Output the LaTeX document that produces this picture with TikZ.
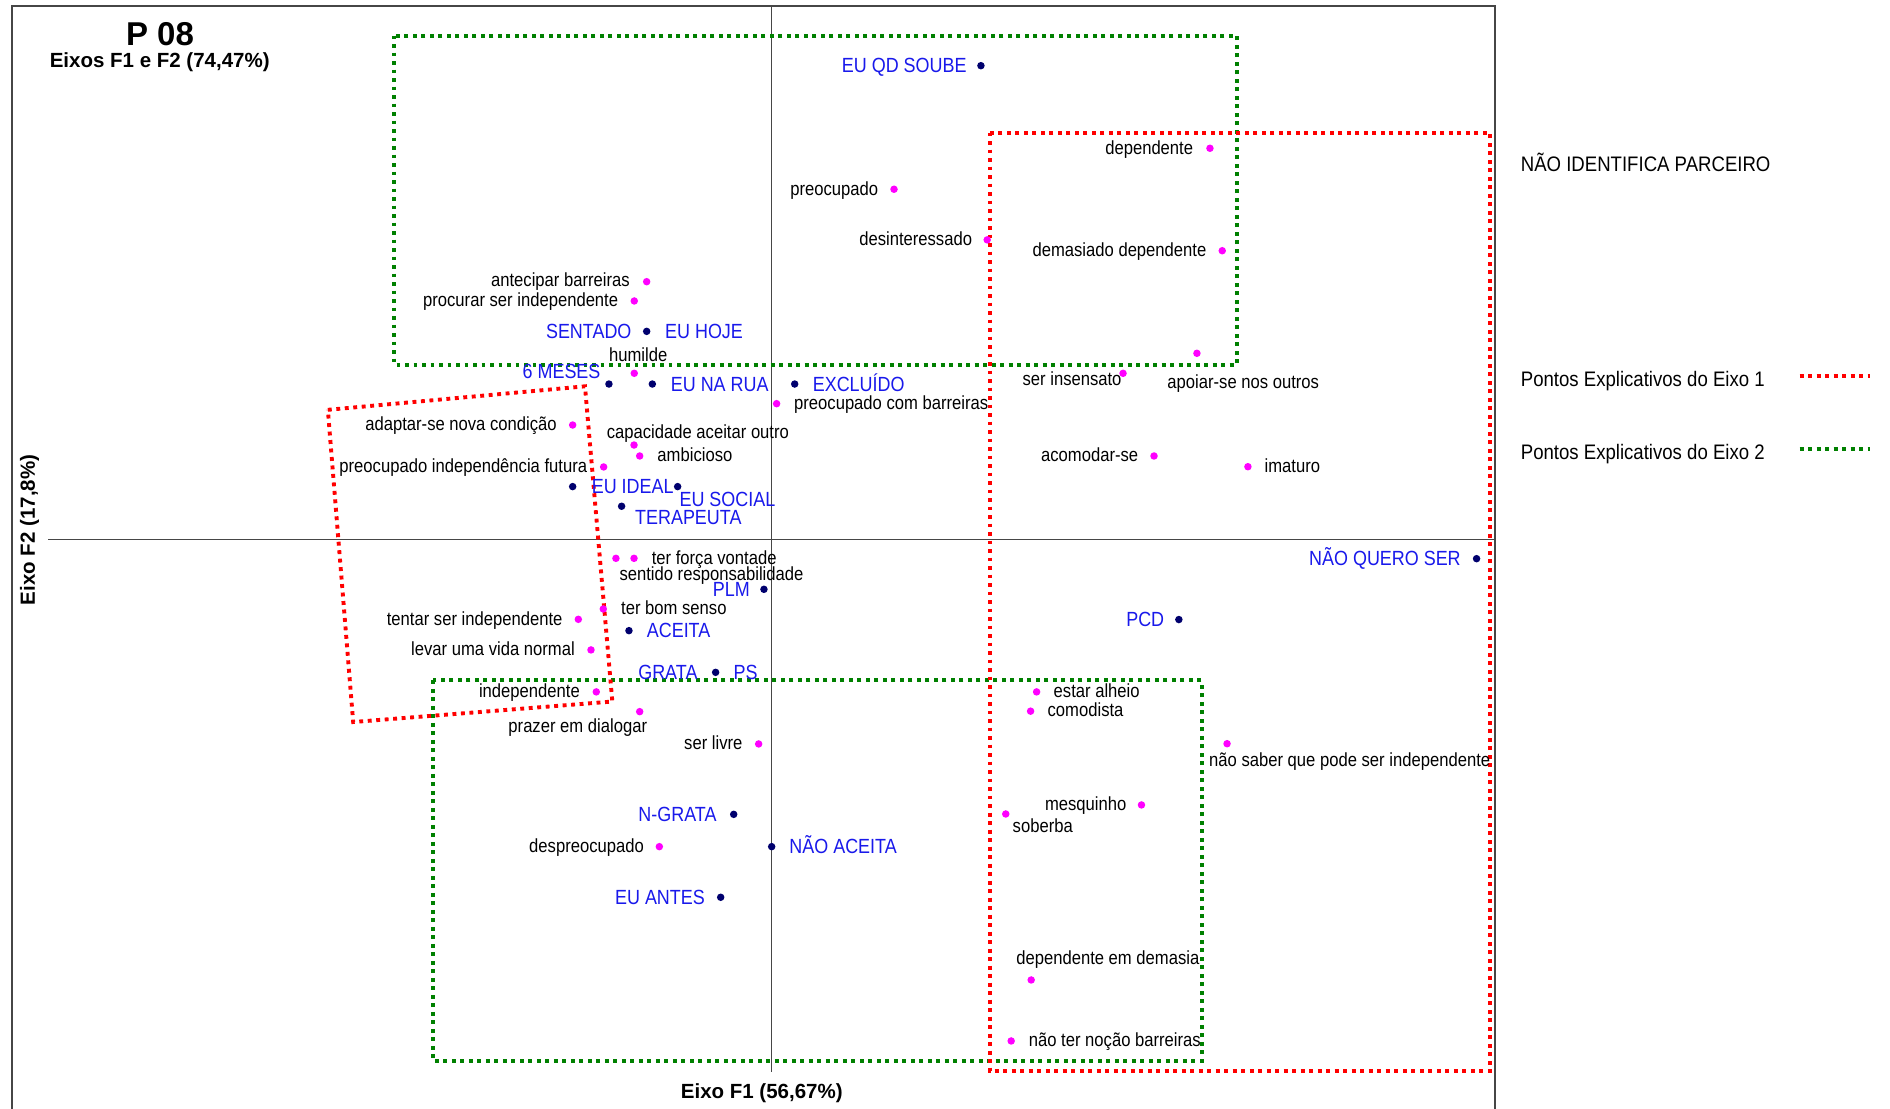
\documentclass[tikz,border=0pt]{standalone}
\usepackage{fontspec}
\setmainfont{Liberation Sans}
\newfontfamily\ptfont[FakeStretch=0.875]{Liberation Sans}
\newfontfamily\legfont[FakeStretch=0.885]{Liberation Sans}

\definecolor{navydot}{RGB}{0,0,110}
\definecolor{lblblue}{RGB}{25,25,235}
\definecolor{dotmag}{RGB}{255,0,255}
\definecolor{boxred}{RGB}{255,0,0}
\definecolor{boxgreen}{RGB}{0,128,0}
\definecolor{framegray}{RGB}{70,70,70}

\tikzset{
  mdot/.style={circle,fill=dotmag,inner sep=0pt,minimum size=7.5pt},
  ndot/.style={circle,fill=navydot,inner sep=0pt,minimum size=7.5pt},
  blk/.style={font=\ptfont\fontsize{19}{21}\selectfont,inner sep=0pt,text=black},
  blu/.style={font=\ptfont\fontsize{20.5}{22}\selectfont,inner sep=0pt,text=lblblue},
  legtxt/.style={font=\legfont\fontsize{21}{23}\selectfont,inner sep=0pt,text=black},
  ttl/.style={font=\bfseries\fontsize{33}{36}\selectfont,inner sep=0pt},
  axlbl/.style={font=\bfseries\fontsize{20.5}{23}\selectfont,inner sep=0pt},
  axisone/.style={draw=boxred,line width=3.9pt,dash pattern=on 3.9pt off 4.6pt},
  axistwo/.style={draw=boxgreen,line width=3.9pt,dash pattern=on 3.9pt off 4.6pt},
  axisline/.style={draw=gray!55!black,line width=1.2pt},
}

\begin{document}
\begin{tikzpicture}[x=1.20536pt,y=-1.20536pt]
\useasboundingbox (0,0) rectangle (1568,920);
\fill[white] (0,0) rectangle (1568,920);
\clip (0,0) rectangle (1568,920);

% plot frame (open at the bottom edge)
\draw[framegray,line width=2pt] (10,930) -- (10,4.6) -- (1240,4.6) -- (1240,930);

% factor axes
\draw[axisline] (640,4.6) -- (640,889);
\draw[axisline] (40,447.8) -- (1240,447.8);

% groups explaining axis 2
\draw[axistwo] (327,29.5) rectangle (1026,302.5);
\draw[axistwo] (359,564.5) rectangle (997,880);
% groups explaining axis 1
\draw[axisone] (821,110) rectangle (1236,888.5);
\draw[axisone] (272,340) -- (485.3,320.5) -- (508,582) -- (293,599) -- cycle;

% titles
\node[ttl,anchor=base] (title) at (132.7,37.9) {P 08};
\node[axlbl,anchor=base] (subtitle) at (132.5,56.4) {Eixos F1 e F2 (74,47\%)};
\node[axlbl,anchor=base] (xlab) at (632,911) {Eixo F1 (56,67\%)};
\node[axlbl,anchor=base,rotate=90] (ylab) at (29,439.7) {Eixo F2 (17,8\%)};

% legend
\node[legtxt,anchor=base west] (leg0) at (1261.6,142.4) {NÃO IDENTIFICA PARCEIRO};
\node[legtxt,anchor=base west] (leg1) at (1261.6,321) {Pontos Explicativos do Eixo 1};
\node[legtxt,anchor=base west] (leg2) at (1261.6,381.6) {Pontos Explicativos do Eixo 2};
\coordinate (l1a) at (1493,312);  \coordinate (l1b) at (1551,312);
\coordinate (l2a) at (1493,372.2); \coordinate (l2b) at (1551,372.2);
\draw[axisone] (l1a) -- (l1b);
\draw[axistwo] (l2a) -- (l2b);

% ---- category points (navy) ----
\node[ndot] (qd) at (813.8,54.5) {};
\node[blu,anchor=base east] (qd-l) at (802,60.5) {EU QD SOUBE};
\node[ndot] (sent) at (536.5,274.9) {};
\node[blu,anchor=base east] (sent-l) at (524,281) {SENTADO};
\node[blu,anchor=base west] (hoje-l) at (551.7,281) {EU HOJE};
\node[ndot] (meses) at (505.2,318.6) {};
\node[blu,anchor=base east] (meses-l) at (498.3,313.9) {6 MESES};
\node[ndot] (rua) at (541.2,318.6) {};
\node[blu,anchor=base west] (rua-l) at (556.4,324.6) {EU NA RUA};
\node[ndot] (excl) at (659.3,318.6) {};
\node[blu,anchor=base west] (excl-l) at (674.2,324.6) {EXCLUÍDO};
\node[ndot] (ideal) at (475.1,403.7) {};
\node[blu,anchor=base west] (ideal-l) at (490.8,409.7) {EU IDEAL};
\node[ndot] (social) at (562.2,403.7) {};
\node[blu,anchor=base west] (social-l) at (563.6,419.8) {EU SOCIAL};
\node[ndot] (tera) at (515.7,420) {};
\node[blu,anchor=base west] (tera-l) at (526.8,435.5) {TERAPEUTA};
\node[ndot] (plm) at (633.8,488.9) {};
\node[blu,anchor=base east] (plm-l) at (622.2,494.9) {PLM};
\node[ndot] (aceita) at (521.8,523.2) {};
\node[blu,anchor=base west] (aceita-l) at (536.5,529.2) {ACEITA};
\node[ndot] (grata) at (593.7,557.8) {};
\node[blu,anchor=base east] (grata-l) at (578.8,563.8) {GRATA};
\node[blu,anchor=base west] (ps-l) at (608.4,563.8) {PS};
\node[ndot] (ngrata) at (608.7,675.6) {};
\node[blu,anchor=base east] (ngrata-l) at (594.6,681.6) {N-GRATA};
\node[ndot] (naoac) at (640.2,702.4) {};
\node[blu,anchor=base west] (naoac-l) at (654.8,708.4) {NÃO ACEITA};
\node[ndot] (antes) at (597.9,744.4) {};
\node[blu,anchor=base east] (antes-l) at (584.9,750.4) {EU ANTES};
\node[ndot] (pcd) at (978,514) {};
\node[blu,anchor=base east] (pcd-l) at (966,520) {PCD};
\node[ndot] (nqs) at (1225,463.5) {};
\node[blu,anchor=base east] (nqs-l) at (1212,469.5) {NÃO QUERO SER};

% ---- attribute points (magenta) ----
\node[mdot] (a1) at (1003.8,123) {};
\node[blk,anchor=base east] (a1-l) at (990,127.8) {dependente};
\node[mdot] (a2) at (741.7,157) {};
\node[blk,anchor=base east] (a2-l) at (728.7,161.8) {preocupado};
\node[mdot] (a3) at (819,199) {};
\node[blk,anchor=base east] (a3-l) at (806.6,203.8) {desinteressado};
\node[mdot] (a4) at (1014,208) {};
\node[blk,anchor=base east] (a4-l) at (1001,212.8) {demasiado dependente};
\node[mdot] (a5) at (536.5,233.7) {};
\node[blk,anchor=base east] (a5-l) at (522.6,238) {antecipar barreiras};
\node[mdot] (a6) at (526.2,249.7) {};
\node[blk,anchor=base east] (a6-l) at (513,254.5) {procurar ser independente};
\node[mdot] (a7) at (526.2,309.7) {};
\node[blk,anchor=base] (a7-l) at (529.5,300) {humilde};
\node[mdot] (a8) at (993,293.1) {};
\node[blk,anchor=base west] (a8-l) at (968.4,322) {apoiar-se nos outros};
\node[mdot] (a9) at (931.7,309.7) {};
\node[blk,anchor=base east] (a9-l) at (930.6,320) {ser insensato};
\node[mdot] (a10) at (644.3,334.9) {};
\node[blk,anchor=base west] (a10-l) at (658.7,339.7) {preocupado com barreiras};
\node[mdot] (a11) at (475.1,352.6) {};
\node[blk,anchor=base east] (a11-l) at (462,357.4) {adaptar-se nova condição};
\node[mdot] (a12) at (526,369.2) {};
\node[blk,anchor=base west] (a12-l) at (503.3,363.7) {capacidade aceitar outro};
\node[mdot] (a13) at (530.7,378.3) {};
\node[blk,anchor=base west] (a13-l) at (545.3,383.1) {ambicioso};
\node[mdot] (a14) at (500.8,387.4) {};
\node[blk,anchor=base east] (a14-l) at (487.3,392.2) {preocupado independência futura};
\node[mdot] (a15) at (957.4,378.3) {};
\node[blk,anchor=base east] (a15-l) at (944.4,383.1) {acomodar-se};
\node[mdot] (a16) at (1035.3,387.2) {};
\node[blk,anchor=base west] (a16-l) at (1049,392) {imaturo};
\node[mdot] (a17) at (511,463.2) {};
\node[blk,anchor=base west] (a17-l) at (513.8,481.2) {sentido responsabilidade};
\node[mdot] (a18) at (526,463.2) {};
\node[blk,anchor=base west] (a18-l) at (540.6,468.2) {ter força vontade};
\node[mdot] (a19) at (500.5,505.2) {};
\node[blk,anchor=base west] (a19-l) at (515.2,510) {ter bom senso};
\node[mdot] (a20) at (479.8,513.8) {};
\node[blk,anchor=base east] (a20-l) at (466.8,518.6) {tentar ser independente};
\node[mdot] (a21) at (490.3,539.2) {};
\node[blk,anchor=base east] (a21-l) at (477,544) {levar uma vida normal};
\node[mdot] (a22) at (494.7,574) {};
\node[blk,anchor=base east] (a22-l) at (481.2,578.8) {independente};
\node[mdot] (a23) at (530.7,590.4) {};
\node[blk,anchor=base east] (a23-l) at (537,607.8) {prazer em dialogar};
\node[mdot] (a24) at (629.4,617.2) {};
\node[blk,anchor=base east] (a24-l) at (616.1,622) {ser livre};
\node[mdot] (a25) at (860,574) {};
\node[blk,anchor=base west] (a25-l) at (874,578.8) {estar alheio};
\node[mdot] (a26) at (855,590) {};
\node[blk,anchor=base west] (a26-l) at (869,594.8) {comodista};
\node[mdot] (a27) at (1018,617) {};
\node[blk,anchor=base west] (a27-l) at (1003,636) {não saber que pode ser independente};
\node[mdot] (a28) at (947,667.8) {};
\node[blk,anchor=base east] (a28-l) at (934.6,672.6) {mesquinho};
\node[mdot] (a29) at (834.4,675.3) {};
\node[blk,anchor=base west] (a29-l) at (840,691) {soberba};
\node[mdot] (a30) at (547,702.4) {};
\node[blk,anchor=base east] (a30-l) at (534.3,707.2) {despreocupado};
\node[mdot] (a31) at (855.5,813) {};
\node[blk,anchor=base west] (a31-l) at (843,800.5) {dependente em demasia};
\node[mdot] (a32) at (838.9,863.6) {};
\node[blk,anchor=base west] (a32-l) at (853.4,868.4) {não ter noção barreiras};
\end{tikzpicture}
\end{document}
